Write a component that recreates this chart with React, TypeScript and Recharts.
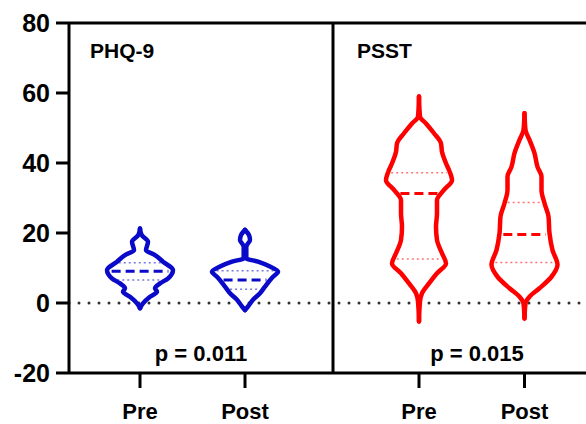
import React from 'react';
import { ComposedChart, Line, XAxis, YAxis, ReferenceLine, ReferenceDot } from 'recharts';

const FONT = '"Liberation Sans", Arial, sans-serif';
const BLUE = '#0a0ac8';
const RED = '#ff0000';

// group positions on the x axis (plot units), labels and panel split
const GROUP_X = [71, 176, 350, 455.5];
const GROUP_LABELS = ['Pre', 'Post', 'Pre', 'Post'];
const PANEL_SPLIT = 264;
const Y_TICKS = [-20, 0, 20, 40, 60, 80];

// violin outlines: [score, half width]
const PHQ_PRE = [
  [21.3, 0], [19.4, 1.7], [17.5, 8], [15.1, 6], [13.7, 15], [11.8, 23], [9.4, 33],
  [7.0, 28], [5.6, 20], [4.2, 15], [3.2, 17], [1.8, 10], [-0.1, 3], [-1.5, 0],
];
const PHQ_POST = [
  [20.9, 0], [19.4, 4], [18, 5], [16.6, 2], [16.1, 1.3], [12.8, 1.3], [11.8, 13],
  [10.4, 25], [8.9, 33], [7.5, 28], [4.7, 20], [2.8, 15], [0.9, 8], [-1.0, 3], [-2, 0],
];
const PSST_PRE = [
  [59.0, 0], [53.2, 1], [51.3, 7], [48.5, 15], [45.6, 22], [43.2, 23], [39.9, 27],
  [38.0, 30], [35.1, 33], [32.3, 25], [29.4, 18], [25.6, 18], [21.8, 17], [18, 18],
  [14.2, 23], [11.3, 27], [8.5, 18], [5.6, 10], [2.8, 3], [0.4, 1], [-5.3, 0],
];
const PSST_POST = [
  [54.2, 0], [49.4, 1], [46.6, 5], [42.8, 10], [38.9, 13], [36.1, 17], [32.3, 17],
  [28.5, 20], [24.7, 24], [19.9, 25], [15.1, 28], [10.9, 33], [7.5, 27], [4.2, 15],
  [1.8, 5], [-0.1, 1], [-4.4, 0],
];

// quartiles: [Q1, median, Q3]
const PHQ_PRE_Q = [6.6, 9.1, 11.5];
const PHQ_POST_Q = [3.9, 6.6, 9.2];
const PSST_PRE_Q = [12.6, 31.3, 37.2];
const PSST_POST_Q = [11.6, 19.6, 28.7];

const P_VALUES = ['p = 0.011', 'p = 0.015'];
const TITLES = ['PHQ-9', 'PSST'];

const violins = [
  { outline: PHQ_PRE, q: PHQ_PRE_Q, color: BLUE },
  { outline: PHQ_POST, q: PHQ_POST_Q, color: BLUE },
  { outline: PSST_PRE, q: PSST_PRE_Q, color: RED },
  { outline: PSST_POST, q: PSST_POST_Q, color: RED },
];

// width of the violin at a given score (for the quartile bars)
const widthAt = (outline: number[][], v: number) => {
  for (let i = 0; i < outline.length - 1; i++) {
    const [v0, w0] = outline[i];
    const [v1, w1] = outline[i + 1];
    if (v <= v0 && v >= v1) return w0 + ((v0 - v) / (v0 - v1)) * (w1 - w0);
  }
  return 0;
};

const TextMark = (text: string, anchor: string, size: number) => (p: any) => (
  <text x={p.cx} y={p.cy} textAnchor={anchor} fontFamily={FONT} fontWeight={700} fontSize={size} fill="#000">
    {text}
  </text>
);

const App: React.FC = () => {
  return (
    <div style={{ position: 'absolute', left: 0, top: 0, width: 586, height: 424, overflow: 'hidden', background: '#fff' }}>
      <ComposedChart
        width={620}
        height={424}
        layout="vertical"
        margin={{ top: 23, right: 23, left: 0, bottom: 0 }}
      >
        <XAxis
          type="number"
          dataKey="x"
          domain={[0, 528]}
          ticks={GROUP_X}
          interval={0}
          tickFormatter={(v: number) => GROUP_LABELS[GROUP_X.indexOf(v)] ?? ''}
          height={51}
          tickSize={15}
          tickMargin={15}
          axisLine={{ stroke: '#000', strokeWidth: 3 }}
          tickLine={{ stroke: '#000', strokeWidth: 3 }}
          tick={{ fill: '#000', fontSize: 22, fontWeight: 700, fontFamily: FONT }}
        />
        <YAxis
          type="number"
          dataKey="v"
          domain={[-20, 80]}
          reversed
          ticks={Y_TICKS}
          interval={0}
          width={69}
          tickSize={13}
          tickMargin={6}
          axisLine={{ stroke: '#000', strokeWidth: 3 }}
          tickLine={{ stroke: '#000', strokeWidth: 3 }}
          tick={{ fill: '#000', fontSize: 25, fontWeight: 700, fontFamily: FONT }}
        />
        <ReferenceLine y={80} stroke="#000" strokeWidth={3} />
        <ReferenceLine x={PANEL_SPLIT} stroke="#000" strokeWidth={3} />
        <ReferenceLine y={0} stroke="#333" strokeWidth={3} strokeDasharray="0 10" strokeLinecap="round" />

        {violins.map((vl, i) => {
          const cx = GROUP_X[i];
          const [q1, med, q3] = vl.q;
          return [q1, q3].map((q, j) => {
            const w = widthAt(vl.outline, q) - 3;
            return (
              <ReferenceLine
                key={`q${i}-${j}`}
                segment={[{ x: cx - w, y: q }, { x: cx + w, y: q }]}
                stroke={vl.color}
                strokeOpacity={0.55}
                strokeWidth={1.5}
                strokeDasharray="2 3"
              />
            );
          }).concat(
            <ReferenceLine
              key={`m${i}`}
              segment={[{ x: cx - widthAt(vl.outline, med) + 4, y: med }, { x: cx + widthAt(vl.outline, med) - 4, y: med }]}
              stroke={vl.color}
              strokeWidth={3}
              strokeDasharray="9 5"
            />
          );
        })}

        {violins.map((vl, i) => {
          const cx = GROUP_X[i];
          const left = vl.outline.map(([v, w]) => ({ v, x: cx - w }));
          const right = vl.outline.map(([v, w]) => ({ v, x: cx + w }));
          return [left, right].map((d, j) => (
            <Line
              key={`l${i}-${j}`}
              data={d}
              dataKey="x"
              type="monotone"
              stroke={vl.color}
              strokeWidth={4.5}
              strokeLinejoin="round"
              strokeLinecap="round"
              dot={false}
              activeDot={false}
              isAnimationActive={false}
            />
          ));
        })}

        <ReferenceDot x={21} y={70} r={0} shape={TextMark(TITLES[0], 'start', 21)} />
        <ReferenceDot x={288} y={70} r={0} shape={TextMark(TITLES[1], 'start', 21)} />
        <ReferenceDot x={132} y={-16.6} r={0} shape={TextMark(P_VALUES[0], 'middle', 22)} />
        <ReferenceDot x={408} y={-16.6} r={0} shape={TextMark(P_VALUES[1], 'middle', 22)} />
      </ComposedChart>
    </div>
  );
};

export default App;
